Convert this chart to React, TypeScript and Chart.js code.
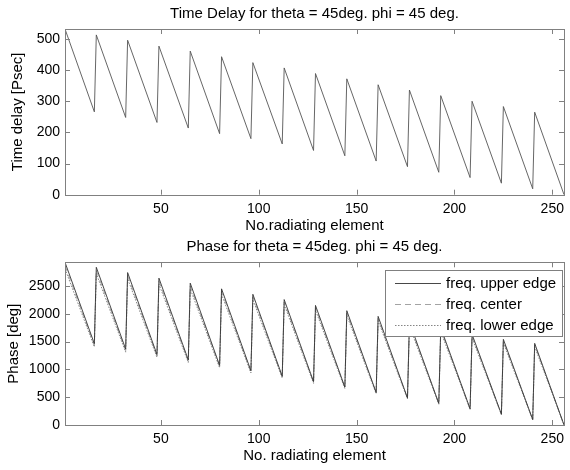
import React, { useEffect, useRef } from "react";
import { Chart, registerables } from "chart.js";

Chart.register(...registerables);

const FONT = "'Liberation Sans', Arial, Helvetica, sans-serif";

// Element index at first / last element of each 16-element row
const ROW_FIRST = [1, 17, 33, 49, 65, 81, 97, 113, 129, 145, 161, 177, 193, 209, 225, 241];
const ROW_LAST = [16, 32, 48, 64, 80, 96, 112, 128, 144, 160, 176, 192, 208, 224, 240, 256];

// Time delay [ps] at start / end of each row
const DELAY_START = [532, 513, 496, 477, 461, 443, 424, 407, 389, 372, 353, 336, 318, 300, 283, 265];
const DELAY_END = [266, 248, 232, 214, 196, 180, 163, 142, 125, 108, 90, 72, 55, 37, 19, 0];

// Phase [deg] at start / end of each row for each frequency
const UPPER_START = [2925, 2835, 2740, 2640, 2550, 2448, 2350, 2255, 2150, 2055, 1953, 1850, 1750, 1630, 1540, 1468];
const UPPER_END = [1462, 1365, 1267, 1170, 1072, 975, 877, 780, 682, 585, 487, 390, 292, 195, 97, 0];
const CENTER_START = [2867, 2778, 2685, 2587, 2499, 2399, 2303, 2210, 2107, 2014, 1914, 1813, 1715, 1597, 1509, 1439];
const CENTER_END = [1433, 1338, 1242, 1147, 1051, 956, 860, 764, 668, 573, 477, 382, 286, 191, 95, 0];
const LOWER_START = [2808, 2722, 2630, 2534, 2448, 2350, 2256, 2165, 2064, 1973, 1875, 1776, 1680, 1565, 1478, 1409];
const LOWER_END = [1404, 1310, 1216, 1123, 1029, 936, 842, 749, 655, 562, 468, 374, 281, 187, 93, 0];

const X_TICKS = [50, 100, 150, 200, 250];
const DELAY_TICKS = [0, 100, 200, 300, 400, 500];
const PHASE_TICKS = [0, 500, 1000, 1500, 2000, 2500];

const LEGEND_LABELS = ["freq. upper edge", "freq. center", "freq. lower edge"];

function toPoints(starts: number[], ends: number[]) {
  const pts: { x: number; y: number }[] = [];
  for (let i = 0; i < starts.length; i++) {
    pts.push({ x: ROW_FIRST[i], y: starts[i] });
    pts.push({ x: ROW_LAST[i], y: ends[i] });
  }
  return pts;
}

const AXIS_COLOR = "#808080";

const framePlugin = {
  id: "frame",
  afterDatasetsDraw(chart: any) {
    const { ctx, chartArea } = chart;
    const { left, right, top, bottom } = chartArea;
    const xs = chart.scales.x;
    const ys = chart.scales.y;
    ctx.save();
    ctx.strokeStyle = AXIS_COLOR;
    ctx.lineWidth = 1;
    const L = 5;
    ctx.beginPath();
    xs.ticks.forEach((t: any) => {
      const px = Math.round(xs.getPixelForValue(t.value)) + 0.5;
      ctx.moveTo(px, bottom);
      ctx.lineTo(px, bottom - L);
      ctx.moveTo(px, top);
      ctx.lineTo(px, top + L);
    });
    ys.ticks.forEach((t: any) => {
      const py = Math.round(ys.getPixelForValue(t.value)) + 0.5;
      ctx.moveTo(left, py);
      ctx.lineTo(left + L, py);
      ctx.moveTo(right, py);
      ctx.lineTo(right - L, py);
    });
    ctx.stroke();
    ctx.strokeRect(Math.round(left) + 0.5, Math.round(top) + 0.5, Math.round(right - left), Math.round(bottom - top));
    // centred title above the axes
    const t = chart.options.plugins.axTitle;
    if (t) {
      ctx.fillStyle = "#000";
      ctx.font = `15px ${FONT}`;
      ctx.textAlign = "center";
      ctx.textBaseline = "middle";
      ctx.fillText(t.text, (left + right) / 2, t.y);
    }
    ctx.restore();
  },
};

const legendPlugin = {
  id: "boxLegend",
  afterDatasetsDraw(chart: any) {
    const ctx = chart.ctx;
    const bx = 385.5, by = 35.5, bw = 177, bh = 66;
    ctx.save();
    ctx.fillStyle = "#ffffff";
    ctx.fillRect(bx, by, bw, bh);
    ctx.strokeStyle = AXIS_COLOR;
    ctx.lineWidth = 1;
    ctx.strokeRect(bx, by, bw, bh);
    const rows = [48.5, 69.5, 90.5];
    chart.data.datasets.forEach((ds: any, i: number) => {
      const y = rows[i];
      ctx.beginPath();
      ctx.strokeStyle = ds.borderColor;
      ctx.lineWidth = ds.borderWidth;
      ctx.setLineDash(ds.borderDash || []);
      ctx.moveTo(395, y);
      ctx.lineTo(441, y);
      ctx.stroke();
      ctx.setLineDash([]);
      ctx.fillStyle = "#000";
      ctx.font = `15px ${FONT}`;
      ctx.textBaseline = "middle";
      ctx.textAlign = "left";
      ctx.fillText(LEGEND_LABELS[i], 446, y + 0.5);
    });
    ctx.restore();
  },
};

function baseOptions(p: {
  title: string;
  titleY: number;
  top: number;
  xTitle: string;
  xTitlePadBottom: number;
  xHeight: number;
  yTitle: string;
  yTitlePadTop: number;
  yMax: number;
  yTicks: number[];
}) {
  const tickFont = { family: FONT, size: 14, weight: "normal" as const };
  const labelFont = { family: FONT, size: 15, weight: "normal" as const };
  return {
    animation: false,
    responsive: false,
    events: [],
    layout: { padding: { left: 0, right: 1.5, top: p.top, bottom: 0 } },
    plugins: {
      legend: { display: false },
      tooltip: { enabled: false },
      title: { display: false },
      axTitle: { text: p.title, y: p.titleY },
    },
    scales: {
      x: {
        type: "linear",
        min: 1,
        max: 256,
        afterBuildTicks: (s: any) => {
          s.ticks = X_TICKS.map((v) => ({ value: v }));
        },
        afterFit: (s: any) => {
          s.height = p.xHeight;
        },
        ticks: {
          color: "#000",
          font: tickFont,
          padding: 6,
          maxRotation: 0,
          autoSkip: false,
          callback: (v: any) => String(v),
        },
        grid: { display: false, drawTicks: false },
        border: { display: false },
        title: {
          display: true,
          text: p.xTitle,
          color: "#000",
          font: labelFont,
          padding: { top: 0, bottom: p.xTitlePadBottom },
        },
      },
      y: {
        type: "linear",
        min: 0,
        max: p.yMax,
        afterBuildTicks: (s: any) => {
          s.ticks = p.yTicks.map((v) => ({ value: v }));
        },
        afterFit: (s: any) => {
          s.width = 65;
        },
        ticks: {
          color: "#000",
          font: tickFont,
          padding: 5,
          autoSkip: false,
          callback: (v: any) => String(v),
        },
        grid: { display: false, drawTicks: false },
        border: { display: false },
        title: {
          display: true,
          text: p.yTitle,
          color: "#000",
          font: labelFont,
          padding: { top: p.yTitlePadTop, bottom: 0 },
        },
      },
    },
  };
}

export default function App() {
  const topRef = useRef<HTMLCanvasElement>(null);
  const botRef = useRef<HTMLCanvasElement>(null);

  useEffect(() => {
    const c1 = new Chart(topRef.current!, {
      type: "line",
      data: {
        datasets: [
          {
            data: toPoints(DELAY_START, DELAY_END),
            borderColor: "#555",
            borderWidth: 0.9,
            pointRadius: 0,
            tension: 0,
            fill: false,
          },
        ],
      },
      options: baseOptions({
        title: "Time Delay for theta = 45deg. phi = 45 deg.",
        titleY: 14,
        top: 29,
        xTitle: "No.radiating element",
        xTitlePadBottom: 0.5,
        xHeight: 40.3,
        yTitle: "Time delay [Psec]",
        yTitlePadTop: 9,
        yMax: 532,
        yTicks: DELAY_TICKS,
      }) as any,
      plugins: [framePlugin],
    });

    const c2 = new Chart(botRef.current!, {
      type: "line",
      data: {
        datasets: [
          {
            label: LEGEND_LABELS[0],
            data: toPoints(UPPER_START, UPPER_END),
            borderColor: "#333",
            borderWidth: 0.9,
            pointRadius: 0,
            tension: 0,
            fill: false,
          },
          {
            label: LEGEND_LABELS[1],
            data: toPoints(CENTER_START, CENTER_END),
            borderColor: "#999",
            borderWidth: 0.9,
            borderDash: [6, 4],
            pointRadius: 0,
            tension: 0,
            fill: false,
          },
          {
            label: LEGEND_LABELS[2],
            data: toPoints(LOWER_START, LOWER_END),
            borderColor: "#777",
            borderWidth: 0.9,
            borderDash: [1.5, 1.5],
            pointRadius: 0,
            tension: 0,
            fill: false,
          },
        ],
      },
      options: baseOptions({
        title: "Phase for theta = 45deg. phi = 45 deg.",
        titleY: 11.5,
        top: 27.3,
        xTitle: "No. radiating element",
        xTitlePadBottom: 5,
        xHeight: 45,
        yTitle: "Phase [deg]",
        yTitlePadTop: 4.5,
        yMax: 2925,
        yTicks: PHASE_TICKS,
      }) as any,
      plugins: [framePlugin, legendPlugin],
    });

    return () => {
      c1.destroy();
      c2.destroy();
    };
  }, []);

  return (
    <div
      style={{
        position: "fixed",
        left: 0,
        top: 0,
        width: 570,
        height: 470,
        background: "#fff",
      }}
    >
      <canvas ref={topRef} width={570} height={235} style={{ display: "block", width: 570, height: 235 }} />
      <canvas ref={botRef} width={570} height={235} style={{ display: "block", width: 570, height: 235 }} />
    </div>
  );
}
